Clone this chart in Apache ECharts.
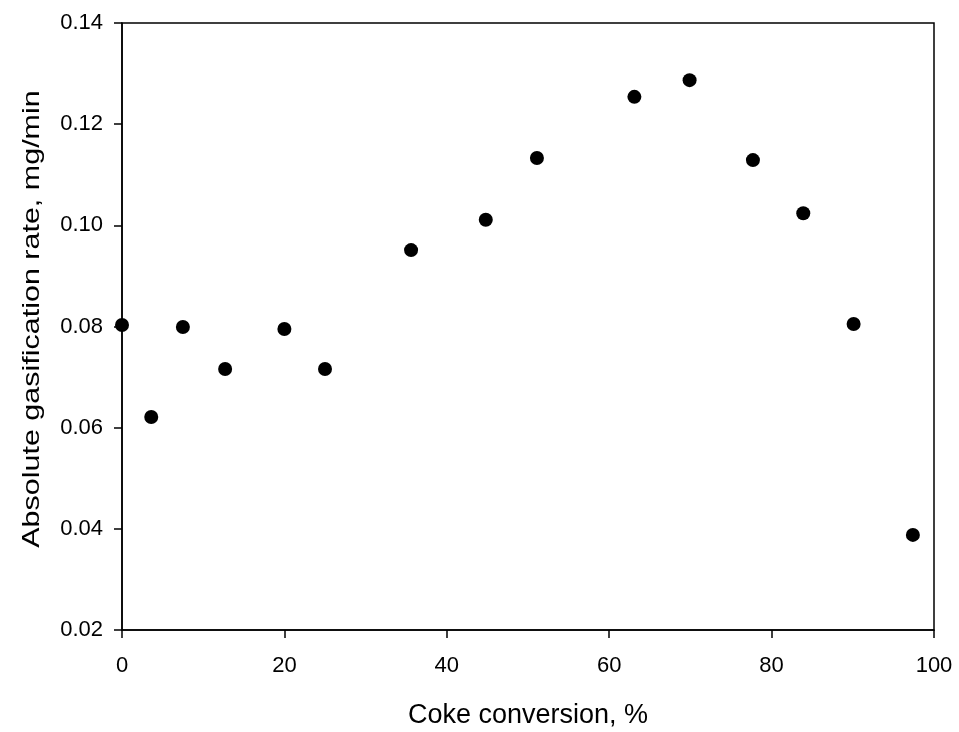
<!DOCTYPE html>
<html>
<head>
<meta charset="utf-8">
<script src="https://cdn.jsdelivr.net/npm/echarts@6/dist/echarts.min.js"></script>
<style>
  html, body { margin: 0; padding: 0; background: #fff; }
  #main { width: 959px; height: 732px; }
</style>
</head>
<body>
<div id="main"></div>
<script>
var chartDom = document.getElementById('main');
var myChart = echarts.init(chartDom);
var option;

// coke conversion (%) and absolute gasification rate (mg/min)
var conversion = [0, 3.6, 7.5, 12.7, 20.0, 25.0, 35.6, 44.8, 51.1, 63.1, 69.9, 77.7, 83.9, 90.1, 97.4];
var rate = [0.0803, 0.0621, 0.0799, 0.0716, 0.0795, 0.0716, 0.0951, 0.1011, 0.1133, 0.1254, 0.1287, 0.1129, 0.1024, 0.0805, 0.0388];

var points = conversion.map(function (x, i) {
  return [x, rate[i]];
});

var font = 'Liberation Sans, Arial, sans-serif';

option = {
  animation: false,
  backgroundColor: '#fff',
  grid: {
    left: 122,
    right: 25,
    top: 23,
    bottom: 102,
    outerBoundsMode: 'none',
    show: true,
    borderColor: '#000',
    borderWidth: 1.5
  },
  // y-axis title drawn by hand: the original is stretched along its length
  graphic: [
    {
      type: 'text',
      x: 32,
      y: 319,
      rotation: Math.PI / 2,
      scaleX: 1.27,
      style: {
        text: 'Absolute gasification rate, mg/min',
        fontFamily: font,
        fontSize: 24,
        fill: '#000',
        align: 'center',
        verticalAlign: 'middle'
      }
    }
  ],
  xAxis: {
    type: 'value',
    min: 0,
    max: 100,
    interval: 20,
    name: 'Coke conversion, %',
    nameLocation: 'middle',
    nameGap: 72,
    nameTextStyle: { fontFamily: font, fontSize: 27, color: '#000' },
    axisLine: { lineStyle: { color: '#000', width: 1.5 } },
    axisTick: { inside: false, length: 8, lineStyle: { color: '#000', width: 1.5 } },
    axisLabel: { fontFamily: font, fontSize: 22, color: '#000', margin: 25 },
    splitLine: { show: false }
  },
  yAxis: {
    type: 'value',
    min: 0.02,
    max: 0.14,
    interval: 0.02,
    axisLine: { lineStyle: { color: '#000', width: 1.5 } },
    axisTick: { inside: false, length: 8, lineStyle: { color: '#000', width: 1.5 } },
    axisLabel: {
      fontFamily: font,
      fontSize: 22,
      color: '#000',
      margin: 19,
      formatter: function (v) { return v.toFixed(2); }
    },
    splitLine: { show: false }
  },
  series: [
    {
      type: 'scatter',
      symbol: 'circle',
      symbolSize: 14,
      itemStyle: { color: '#000', opacity: 1 },
      data: points
    }
  ]
};

option && myChart.setOption(option);
</script>
</body>
</html>
